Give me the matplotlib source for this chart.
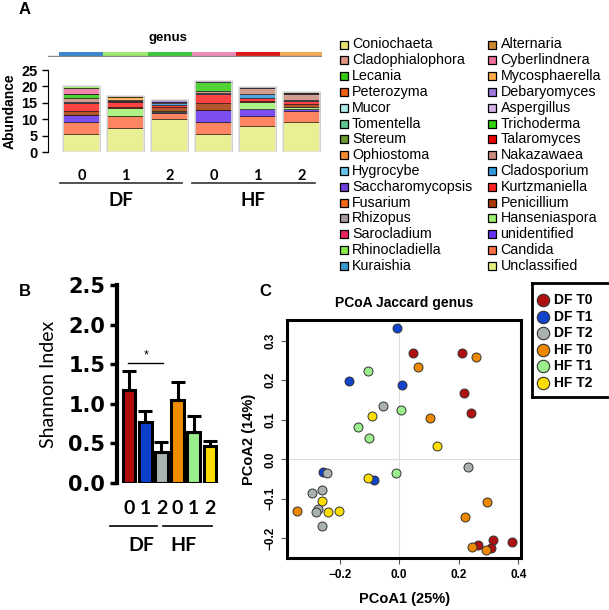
import matplotlib
matplotlib.use("Agg")
import matplotlib.pyplot as plt
import numpy as np

W, H = 609, 610
plt.rcParams['font.family'] = ['Liberation Sans', 'DejaVu Sans']

# ---- panel A data (samples DF0 DF1 DF2 HF0 HF1 HF2) ----
sample_ticks = ['0', '1', '2', '0', '1', '2']
strip_colors = ['#3a86d0', '#a0e870', '#3cc83c', '#f08cb4', '#e01818', '#f4aa5a']

unclassified = [5.4, 7.2, 10.0, 5.6, 8.0, 9.25]
candida = [3.85, 3.7, 2.0, 3.65, 3.0, 3.1]
unidentified = [2.1, 0.1, 0.2, 3.55, 2.2, 0.7]
hanseniaspora = [0.0, 2.5, 0.4, 0.0, 2.15, 0.6]
penicillium = [1.1, 0.1, 1.1, 2.05, 0.2, 1.0]
kurtzmaniella = [2.4, 1.6, 0.7, 2.75, 1.0, 0.8]
cladosporium = [0.5, 0.15, 0.5, 0.3, 1.0, 0.3]
nakazawaea = [1.1, 0.35, 0.4, 0.7, 2.0, 1.8]
trichoderma = [1.1, 0.0, 0.0, 2.8, 0.0, 0.0]
debaryomyces = [0.0, 0.2, 0.6, 0.3, 0.3, 0.4]
mycosphaerella = [0.0, 0.9, 0.0, 0.0, 0.0, 0.0]
cyberlindnera = [2.0, 0.0, 0.0, 0.0, 0.0, 0.0]
alternaria = [0.0, 0.3, 0.0, 0.0, 0.0, 0.2]
rhinocladiella = [0.55, 0.0, 0.0, 0.0, 0.0, 0.0]

legend_col1 = ['Coniochaeta', 'Cladophialophora', 'Lecania', 'Peterozyma', 'Mucor',
               'Tomentella', 'Stereum', 'Ophiostoma', 'Hygrocybe', 'Saccharomycopsis',
               'Fusarium', 'Rhizopus', 'Sarocladium', 'Rhinocladiella', 'Kuraishia']
colors_col1 = ['#e4e070', '#e09484', '#33cc11', '#f06010', '#b0eaea',
               '#5cc890', '#6a9a30', '#f88a30', '#66c4ea', '#7040dc',
               '#f06818', '#aa9a9a', '#e8245a', '#8aea4a', '#3a98d0']
legend_col2 = ['Alternaria', 'Cyberlindnera', 'Mycosphaerella', 'Debaryomyces', 'Aspergillus',
               'Trichoderma', 'Talaromyces', 'Nakazawaea', 'Cladosporium', 'Kurtzmaniella',
               'Penicillium', 'Hanseniaspora', 'unidentified', 'Candida', 'Unclassified']
colors_col2 = ['#cc8a30', '#f0709c', '#ffac48', '#9a78e0', '#d4b4e8',
               '#33cc11', '#ee0000', '#cc8c7c', '#3498dc', '#ff2222',
               '#a83a08', '#a0f070', '#6630ee', '#ff7044', '#e6ee80']

# stack order bottom -> top
stack = [('Unclassified', unclassified), ('Candida', candida), ('unidentified', unidentified),
         ('Hanseniaspora', hanseniaspora), ('Penicillium', penicillium),
         ('Kurtzmaniella', kurtzmaniella), ('Cladosporium', cladosporium),
         ('Nakazawaea', nakazawaea), ('Trichoderma', trichoderma),
         ('Debaryomyces', debaryomyces), ('Mycosphaerella', mycosphaerella),
         ('Cyberlindnera', cyberlindnera), ('Alternaria', alternaria),
         ('Rhinocladiella', rhinocladiella)]

# ---- panel B data ----
shannon = [1.18, 0.77, 0.39, 1.05, 0.64, 0.47]
shannon_err = [0.23, 0.14, 0.13, 0.22, 0.21, 0.06]
shannon_colors = ['#b00c0c', '#0c40cc', '#aab2b2', '#f08c00', '#9cee8c', '#ffdc00']

# ---- panel C data ----
groups = ['DF T0', 'DF T1', 'DF T2', 'HF T0', 'HF T1', 'HF T2']
group_colors = ['#b01010', '#1144cc', '#a8b0b0', '#ee8800', '#9cee8c', '#ffdd00']
df_t0_x = [0.045, 0.210, 0.217, 0.240, 0.316, 0.378, 0.266, 0.307]
df_t0_y = [0.268, 0.268, 0.167, 0.116, -0.204, -0.210, -0.217, -0.224]
df_t1_x = [-0.007, -0.168, 0.008, -0.255, -0.084]
df_t1_y = [0.332, 0.199, 0.189, -0.032, -0.052]
df_t2_x = [-0.054, 0.231, -0.244, -0.292, -0.261, -0.274, -0.278, -0.259]
df_t2_y = [0.136, -0.019, -0.034, -0.085, -0.079, -0.127, -0.134, -0.169]
hf_t0_x = [-0.345, 0.064, 0.258, 0.103, 0.294, 0.221, 0.245, 0.291]
hf_t0_y = [-0.132, 0.234, 0.260, 0.105, -0.107, -0.145, -0.221, -0.230]
hf_t1_x = [-0.104, 0.007, -0.140, -0.103, -0.011]
hf_t1_y = [0.224, 0.125, 0.081, 0.055, -0.034]
hf_t2_x = [-0.092, -0.104, -0.260, -0.240, -0.202, 0.128]
hf_t2_y = [0.110, -0.048, -0.106, -0.133, -0.130, 0.034]

fig = plt.figure(figsize=(W / 100, H / 100), dpi=100)


def px_axes(x0, y0, x1, y1):
    # pixel box (top-left origin) -> figure axes
    return fig.add_axes([x0 / W, 1 - y1 / H, (x1 - x0) / W, (y1 - y0) / H])


def fig_text(x, y, s, **kw):
    fig.text(x / W, 1 - y / H, s, **kw)


# ================= panel A =================
color_of = dict(zip(legend_col1 + legend_col2, colors_col1 + colors_col2))
axA = px_axes(48, 70, 322, 152)
pos = np.arange(6)
bottom = np.zeros(6)
for name, vals in stack:
    axA.bar(pos, vals, 0.84, bottom=bottom, color=color_of[name], alpha=0.85,
            edgecolor=(0, 0, 0, 0.05), linewidth=0.4)
    bottom += np.array(vals)
axA.bar(pos, bottom, 0.84, fill=False, edgecolor='#e2e2e2', linewidth=1.2)
axA.set_xlim(-0.761, 5.465)
axA.set_ylim(0, 25)
for s in ['top', 'right', 'bottom']:
    axA.spines[s].set_visible(False)
axA.set_yticks([0, 5, 10, 15, 20, 25])
axA.tick_params(axis='y', length=4, width=1, labelsize=10.5)
for lab in axA.get_yticklabels():
    lab.set_fontweight('bold')
axA.set_xticks(pos)
axA.set_xticklabels(sample_ticks, fontsize=10.5, fontweight='bold', family='Lato')
axA.tick_params(axis='x', length=0, pad=12)
axA.set_ylabel('Abundance', fontsize=10, fontweight='bold', labelpad=3)
trA = axA.get_xaxis_transform()
axA.plot([-0.49, 2.28], [-0.378, -0.378], color='#333333', lw=1.2, transform=trA, clip_on=False)
axA.plot([2.51, 5.31], [-0.378, -0.378], color='#333333', lw=1.2, transform=trA, clip_on=False)
axA.text(0.9, -0.59, 'DF', transform=trA, ha='center', va='center', fontsize=13.5,
         fontweight='bold', family='Lato')
axA.text(3.9, -0.59, 'HF', transform=trA, ha='center', va='center', fontsize=13.5,
         fontweight='bold', family='Lato')

# annotation strip above the bars
axS = px_axes(48, 52, 322, 57)
axS.bar(pos, [1] * 6, 1.0, color=strip_colors)
axS.set_xlim(-0.761, 5.465)
axS.set_ylim(-0.25, 1)
axS.axhline(0, color='#888888', lw=1)
axS.axis('off')
fig_text(168, 38, 'genus', ha='center', va='center', fontsize=9.5, fontweight='bold')
fig_text(25, 9, 'A', ha='center', va='center', fontsize=12, fontweight='bold')

# legend of panel A
axL = px_axes(320, 30, 609, 280)
axL.set_xlim(320, 609)
axL.set_ylim(280, 30)
axL.axis('off')
for col, (names, cols) in enumerate([(legend_col1, colors_col1), (legend_col2, colors_col2)]):
    xs = 343.5 if col == 0 else 492
    for k, (nm, c) in enumerate(zip(names, cols)):
        y = 44.5 + 15.8 * k
        axL.scatter([xs], [y], marker='s', s=30, color=c, edgecolor='black', linewidth=0.9)
        axL.text(xs + 8.5, y, nm, va='center', ha='left', fontsize=10.3)

# ================= panel B =================
axB = px_axes(117, 285, 222, 483)
axB.bar(pos, shannon, 0.78, color=shannon_colors, edgecolor='black', linewidth=2.2)
axB.errorbar(pos, shannon, yerr=[np.zeros(6), shannon_err], fmt='none', ecolor='black',
             elinewidth=2.2, capsize=5, capthick=2.2)
axB.set_xlim(-0.741, 5.74)
axB.set_ylim(0, 2.5)
for s in ['top', 'right', 'bottom']:
    axB.spines[s].set_visible(False)
axB.spines['left'].set_linewidth(3)
axB.set_yticks([0, 0.5, 1.0, 1.5, 2.0, 2.5])
axB.set_yticklabels(['0.0', '0.5', '1.0', '1.5', '2.0', '2.5'])
axB.tick_params(axis='y', length=5, width=2.5, labelsize=15)
for lab in axB.get_yticklabels():
    lab.set_fontweight('bold')
    lab.set_family('DejaVu Sans')
axB.set_xticks(pos)
axB.set_xticklabels(sample_ticks, fontsize=14, fontweight='bold', family='Lato')
axB.tick_params(axis='x', length=0, pad=12)
axB.set_ylabel('Shannon Index', fontsize=14, family='Lato', labelpad=8)
trB = axB.get_xaxis_transform()
axB.plot([-1.17, 1.73], [-0.218, -0.218], color='black', lw=1.2, transform=trB, clip_on=False)
axB.plot([2.1, 5.12], [-0.218, -0.218], color='black', lw=1.2, transform=trB, clip_on=False)
axB.text(0.74, -0.315, 'DF', transform=trB, ha='center', va='center', fontsize=14,
         fontweight='bold', family='Lato')
axB.text(3.35, -0.315, 'HF', transform=trB, ha='center', va='center', fontsize=14,
         fontweight='bold', family='Lato')
axB.plot([-0.06, 2.1], [1.51, 1.51], color='black', lw=1)
axB.text(1.05, 1.53, '*', ha='center', va='bottom', fontsize=9)
fig_text(25, 292, 'B', ha='center', va='center', fontsize=12, fontweight='bold')

# ================= panel C =================
axC = px_axes(287.3, 320, 521, 558)
pts = [(df_t0_x, df_t0_y), (df_t1_x, df_t1_y), (df_t2_x, df_t2_y),
       (hf_t0_x, hf_t0_y), (hf_t1_x, hf_t1_y), (hf_t2_x, hf_t2_y)]
for (gx, gy), c in zip(pts, group_colors):
    axC.scatter(gx, gy, s=42, color=c, edgecolor='#333333', linewidth=0.7, zorder=3)
axC.axhline(0, color='#dddddd', lw=0.8, zorder=0)
axC.axvline(0, color='#dddddd', lw=0.8, zorder=0)
axC.set_xlim(-0.376, 0.409)
axC.set_ylim(-0.25, 0.3527)
for s in axC.spines.values():
    s.set_linewidth(2.2)
axC.set_xticks([-0.2, 0.0, 0.2, 0.4])
axC.set_yticks([-0.2, -0.1, 0.0, 0.1, 0.2, 0.3])
axC.tick_params(length=4, width=0.8, color='#555555', labelsize=8.5, pad=4)
for lab in axC.get_xticklabels() + axC.get_yticklabels():
    lab.set_fontweight('bold')
for lab in axC.get_yticklabels():
    lab.set_rotation(90)
    lab.set_va('center')
axC.set_xlabel('PCoA1 (25%)', fontsize=10.5, fontweight='bold', labelpad=8)
axC.set_ylabel('PCoA2 (14%)', fontsize=10.5, fontweight='bold', labelpad=6)
axC.set_title('PCoA Jaccard genus', fontsize=10, fontweight='bold', pad=9)
fig_text(265, 291, 'C', ha='center', va='center', fontsize=12, fontweight='bold')

# legend box for panel C
axCL = px_axes(532, 283, 612, 397)
axCL.set_xlim(532, 612)
axCL.set_ylim(397, 283)
axCL.set_xticks([])
axCL.set_yticks([])
for s in axCL.spines.values():
    s.set_linewidth(2)
for k, (g, c) in enumerate(zip(groups, group_colors)):
    y = 300 + 16.6 * k
    axCL.scatter([543], [y], s=80, color=c, edgecolor='#333333', linewidth=0.8)
    axCL.text(554, y, g, va='center', ha='left', fontsize=10, fontweight='bold')

fig.savefig('out.png', dpi=100)
